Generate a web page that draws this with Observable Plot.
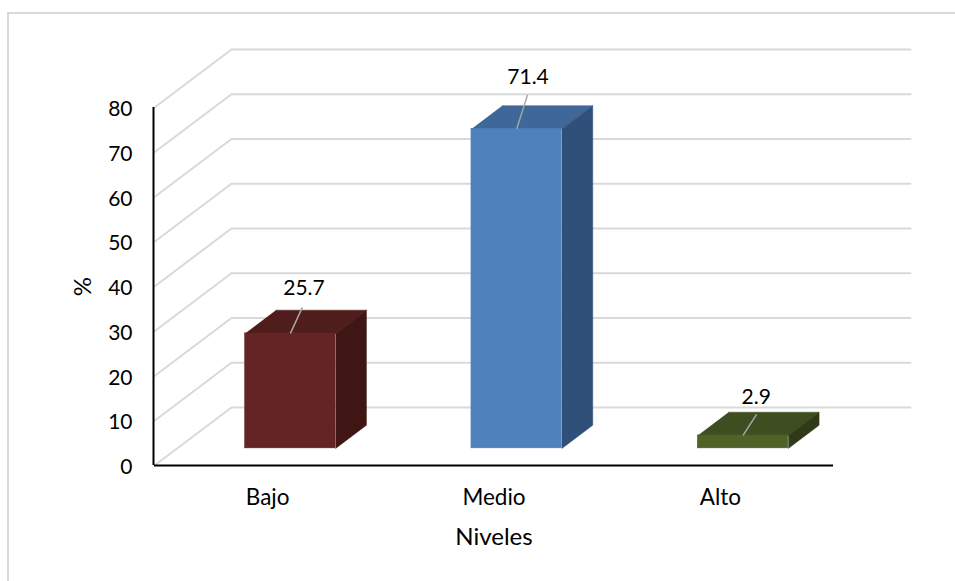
<!DOCTYPE html>
<html lang="es">
<head>
<meta charset="utf-8">
<title>Niveles</title>
<script src="https://cdn.jsdelivr.net/npm/d3@7"></script>
<script src="https://cdn.jsdelivr.net/npm/@observablehq/plot@0.6"></script>
<style>
  html, body { margin: 0; padding: 0; background: #fff; overflow: hidden; }
  #sheet { position: relative; width: 955px; height: 581px; }
  #edge { position: absolute; left: 7px; top: 12px; right: 0; bottom: 0;
          border-left: 2px solid #d9d9d9; border-top: 2px solid #d9d9d9; }
  #chart { position: absolute; left: 0; top: 0; }
  #chart svg { display: block; background: transparent; }
</style>
</head>
<body>
<div id="sheet"><div id="edge"></div><div id="chart"></div></div>
<script>
// Values
const categories = ["Bajo", "Medio", "Alto"];
const percentages = [25.7, 71.4, 2.9];
const yTicks = [0, 10, 20, 30, 40, 50, 60, 70, 80];

// Face colours per category
const frontColors = ["#632523", "#4f81bd", "#4f6228"];
const topColors = ["#4f1d1b", "#3f6797", "#3f4e20"];
const sideColors = ["#3f1613", "#30507a", "#2f3b18"];

// Oblique depth of the floor, in scale units (one category = 1 on x)
const depthX = 0.34;
const depthY = 12.96;
const barWidth = 0.4;
const barDepth = 0.4;
const barStart = 0.295;
const xMax = categories.length;

// Leader lines: sideways shift and rise from the bar's top edge, in scale units
const leaderShift = [0.053, 0.048, 0.06];
const leaderRise = [5.8, 7.6, 4.7];
const labelShift = [0.06, 0.05, 0.058];
const labelRise = [10.05, 11.6, 8.5];

const bars = categories.map((name, i) => {
  const value = percentages[i];
  const x0 = i + 0.5 - barWidth / 2 + barStart * depthX;
  const x1 = x0 + barWidth;
  const base = barStart * depthY;
  return {
    name, value, i, x0, x1,
    y0: base,
    y1: base + value,
    mid: (x0 + x1) / 2,
    ox: barDepth * depthX,
    oy: barDepth * depthY
  };
});

// Polygon outlines for the receding faces of each bar
const faces = bars.flatMap((b) => {
  const top = [
    [b.x0, b.y1], [b.x1, b.y1],
    [b.x1 + b.ox, b.y1 + b.oy], [b.x0 + b.ox, b.y1 + b.oy]
  ];
  const side = [
    [b.x1, b.y0], [b.x1 + b.ox, b.y0 + b.oy],
    [b.x1 + b.ox, b.y1 + b.oy], [b.x1, b.y1]
  ];
  return [
    ...top.map(([x, y]) => ({x, y, id: `t${b.i}`, color: topColors[b.i]})),
    ...side.map(([x, y]) => ({x, y, id: `s${b.i}`, color: sideColors[b.i]}))
  ];
});

// Each gridline runs up the side wall and then across the back wall
const grid = yTicks.flatMap((v) => [
  {x: 0, y: v, v},
  {x: depthX, y: v + depthY, v},
  {x: xMax + depthX, y: v + depthY, v}
]);

const chart = Plot.plot({
  width: 955,
  height: 581,
  marginLeft: 154,
  marginRight: 122,
  marginTop: 107,
  marginBottom: 116,
  style: {fontFamily: "Lato, sans-serif", background: "transparent", overflow: "visible"},
  x: {domain: [0, xMax], axis: null},
  y: {domain: [0, 80], axis: null},
  marks: [
    Plot.line(grid, {x: "x", y: "y", z: "v", stroke: "#d9d9d9", strokeWidth: 2}),
    Plot.ruleX([0], {y1: 0, y2: 80, stroke: "#000", strokeWidth: 2, dx: -1}),
    Plot.ruleY([0], {x1: 0, x2: xMax, stroke: "#000", strokeWidth: 2}),
    Plot.axisY({
      ticks: yTicks,
      tickSize: 0,
      tickPadding: 22,
      fontSize: 21,
      dy: 2,
      label: null
    }),
    Plot.axisX({
      ticks: categories.map((_, i) => i + 0.5),
      tickFormat: (t) => categories[Math.floor(t)],
      tickSize: 0,
      tickPadding: 24,
      fontSize: 22.5,
      label: null
    }),
    Plot.text(["%"], {
      y: () => 40,
      frameAnchor: "left",
      textAnchor: "middle",
      dx: -71,
      rotate: -90,
      fontSize: 24,
      fill: "#000"
    }),
    Plot.text(["Niveles"], {
      x: () => xMax / 2,
      frameAnchor: "bottom",
      dy: 79,
      fontSize: 24,
      fill: "#000"
    }),
    Plot.line(faces, {x: "x", y: "y", z: "id", fill: (d) => d.color, stroke: (d) => d.color, strokeWidth: 0.5, curve: "linear"}),
    Plot.rect(bars, {x1: "x0", x2: "x1", y1: "y0", y2: "y1", fill: (d) => frontColors[d.i], stroke: (d) => frontColors[d.i], strokeWidth: 0.5}),
    Plot.link(bars, {
      x1: "mid",
      y1: "y1",
      x2: (d) => d.mid + leaderShift[d.i],
      y2: (d) => d.y1 + leaderRise[d.i],
      stroke: "#a6a6a6",
      strokeWidth: 1.5
    }),
    Plot.text(bars, {
      x: (d) => d.mid + labelShift[d.i],
      y: (d) => d.y1 + labelRise[d.i],
      text: (d) => d.value.toFixed(1),
      fontSize: 21,
      fill: "#000"
    })
  ]
});

document.getElementById("chart").appendChild(chart);
</script>
</body>
</html>
